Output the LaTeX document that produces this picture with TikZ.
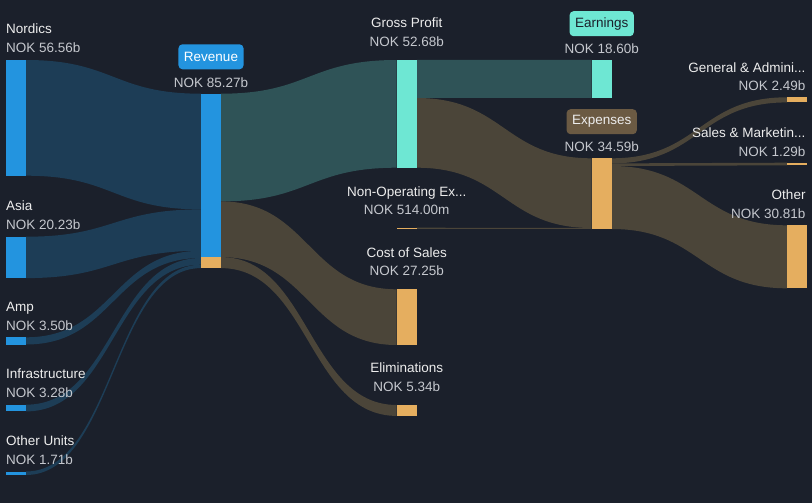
\documentclass[tikz,border=0pt]{standalone}
\usepackage{fontspec}
\setmainfont{Liberation Sans}
\usetikzlibrary{calc}
\definecolor{bgc}{HTML}{1B202B}
\definecolor{bnode}{HTML}{2394DF}
\definecolor{bflow}{HTML}{1D3D56}
\definecolor{tnode}{HTML}{6EE7D3}
\definecolor{tflow}{HTML}{2F5357}
\definecolor{onode}{HTML}{E5AE5F}
\definecolor{oflow}{HTML}{4B4539}
\definecolor{expbox}{HTML}{6B5A43}
\definecolor{nametxt}{HTML}{EDEDED}
\definecolor{valtxt}{HTML}{C5C8CE}
\pgfdeclarelayer{back}
\pgfsetlayers{back,main}
\newcommand\sflow[5]{\fill[#1] let \p1=(#2),\p2=(#3),\p3=(#4),\p4=(#5) in (\p1) .. controls ({(\x1+\x3)/2},\y1) and ({(\x1+\x3)/2},\y3) .. (\p3) -- (\p4) .. controls ({(\x2+\x4)/2},\y4) and ({(\x2+\x4)/2},\y2) .. (\p2) -- cycle;}
\tikzset{
  bar/.style={rectangle, inner sep=0pt, outer sep=0pt, minimum width=20pt, anchor=north west},
  bbar/.style={bar, fill=bnode},
  tbar/.style={bar, fill=tnode},
  obar/.style={bar, fill=onode},
  lbl/.style={inner sep=0pt, font=\fontsize{13.5}{16}\selectfont},
  namelbl/.style={lbl, text=nametxt},
  vallbl/.style={lbl, text=valtxt},
  tagbox/.style={lbl, rounded corners=4pt, minimum height=25pt, inner xsep=5.5pt}
}
\begin{document}
\begin{tikzpicture}[x=1pt,y=-1pt]
\begin{pgfonlayer}{back}
\fill[bgc] (0,0) rectangle (812,503);
\end{pgfonlayer}
\useasboundingbox (0,0) rectangle (812,503);
% nodes (bars)
\node[bbar, minimum height=115.7pt] (nord) at (6,60) {};
\node[bbar, minimum height=41.4pt] (asia) at (6,236.7) {};
\node[bbar, minimum height=7.2pt] (amp) at (6,337.3) {};
\node[bbar, minimum height=6.7pt] (infra) at (6,404.7) {};
\node[bbar, minimum height=3.5pt] (othu) at (6,471.5) {};
\node[bbar, minimum height=174.4pt] (rev) at (201,93.7) {};
\node[obar, minimum height=11pt] (revel) at (201,257.1) {};
\node[tbar, minimum height=107.7pt] (gp) at (396.7,60) {};
\node[obar, minimum height=1.1pt] (nonop) at (396.7,227.7) {};
\node[obar, minimum height=55.7pt] (cos) at (396.7,289.3) {};
\node[obar, minimum height=10.9pt] (elim) at (396.7,405) {};
\node[tbar, minimum height=38pt] (earn) at (591.7,60) {};
\node[obar, minimum height=70.7pt] (exp) at (591.7,158.3) {};
\node[obar, minimum height=5.1pt] (ga) at (787,97.3) {};
\node[obar, minimum height=2.6pt] (sm) at (787,162.7) {};
\node[obar, minimum height=63pt] (oth) at (787,225.3) {};
% stacking points
\coordinate (r1) at ([yshift=-115.7pt]rev.north west);
\coordinate (r2) at ([yshift=-157.1pt]rev.north west);
\coordinate (r3) at ([yshift=-164.3pt]rev.north west);
\coordinate (r4) at ([yshift=-171pt]rev.north west);
\coordinate (ro1) at ([yshift=-107.7pt]rev.north east);
\coordinate (ro2) at ([yshift=-163.4pt]rev.north east);
\coordinate (g1) at ([yshift=-38pt]gp.north east);
\coordinate (e1) at ([yshift=-69.7pt]exp.north west);
\coordinate (x1) at ([yshift=-5.1pt]exp.north east);
\coordinate (x2) at ([yshift=-7.7pt]exp.north east);
% flows
\begin{pgfonlayer}{back}
\sflow{bflow}{nord.north east}{nord.south east}{rev.north west}{r1}
\sflow{bflow}{asia.north east}{asia.south east}{r1}{r2}
\sflow{bflow}{amp.north east}{amp.south east}{r2}{r3}
\sflow{bflow}{infra.north east}{infra.south east}{r3}{r4}
\sflow{bflow}{othu.north east}{othu.south east}{r4}{rev.south west}
\sflow{tflow}{rev.north east}{ro1}{gp.north west}{gp.south west}
\sflow{oflow}{ro1}{ro2}{cos.north west}{cos.south west}
\sflow{oflow}{ro2}{rev.south east}{elim.north west}{elim.south west}
\sflow{tflow}{gp.north east}{g1}{earn.north west}{earn.south west}
\sflow{oflow}{g1}{gp.south east}{exp.north west}{e1}
\sflow{oflow}{nonop.north east}{nonop.south east}{e1}{exp.south west}
\sflow{oflow}{exp.north east}{x1}{ga.north west}{ga.south west}
\sflow{oflow}{x1}{x2}{sm.north west}{sm.south west}
\sflow{oflow}{x2}{exp.south east}{oth.north west}{oth.south west}
\end{pgfonlayer}
% left labels
\node[namelbl, anchor=base west] (nordN) at ([yshift=26pt]nord.north west) {Nordics};
\node[vallbl, anchor=base west] (nordV) at ([yshift=7pt]nord.north west) {NOK 56.56b};
\node[namelbl, anchor=base west] (asiaN) at ([yshift=26pt]asia.north west) {Asia};
\node[vallbl, anchor=base west] (asiaV) at ([yshift=7pt]asia.north west) {NOK 20.23b};
\node[namelbl, anchor=base west] (ampN) at ([yshift=26pt]amp.north west) {Amp};
\node[vallbl, anchor=base west] (ampV) at ([yshift=7pt]amp.north west) {NOK 3.50b};
\node[namelbl, anchor=base west] (infraN) at ([yshift=26pt]infra.north west) {Infrastructure};
\node[vallbl, anchor=base west] (infraV) at ([yshift=7pt]infra.north west) {NOK 3.28b};
\node[namelbl, anchor=base west] (othuN) at ([yshift=26pt]othu.north west) {Other Units};
\node[vallbl, anchor=base west] (othuV) at ([yshift=7pt]othu.north west) {NOK 1.71b};
% revenue
\node[tagbox, fill=bnode, text=white] (revN) at ([yshift=36.9pt]rev.north) {Revenue};
\node[vallbl, anchor=base] (revV) at ([yshift=6.4pt]rev.north) {NOK 85.27b};
% middle labels
\node[namelbl, anchor=base] (gpN) at ([yshift=32pt]gp.north) {Gross Profit};
\node[vallbl, anchor=base] (gpV) at ([yshift=13pt]gp.north) {NOK 52.68b};
\node[namelbl, anchor=base] (nonopN) at ([yshift=31.3pt]nonop.north) {Non-Operating Ex...};
\node[vallbl, anchor=base] (nonopV) at ([yshift=13.4pt]nonop.north) {NOK 514.00m};
\node[namelbl, anchor=base] (cosN) at ([yshift=32pt]cos.north) {Cost of Sales};
\node[vallbl, anchor=base] (cosV) at ([yshift=13.6pt]cos.north) {NOK 27.25b};
\node[namelbl, anchor=base] (elimN) at ([yshift=32.3pt]elim.north) {Eliminations};
\node[vallbl, anchor=base] (elimV) at ([yshift=13.3pt]elim.north) {NOK 5.34b};
% earnings / expenses
\node[tagbox, fill=tnode, text=bgc] (earnN) at ([yshift=36.3pt]earn.north) {Earnings};
\node[vallbl, anchor=base] (earnV) at ([yshift=6.7pt]earn.north) {NOK 18.60b};
\node[tagbox, fill=expbox, text=nametxt] (expN) at ([yshift=36.6pt]exp.north) {Expenses};
\node[vallbl, anchor=base] (expV) at ([yshift=7.3pt]exp.north) {NOK 34.59b};
% right labels
\node[namelbl, anchor=base east] (gaN) at ([xshift=-1.3pt,yshift=25pt]ga.north east) {General \& Admini...};
\node[vallbl, anchor=base east] (gaV) at ([xshift=-1.3pt,yshift=6.3pt]ga.north east) {NOK 2.49b};
\node[namelbl, anchor=base east] (smN) at ([xshift=-1.3pt,yshift=25.4pt]sm.north east) {Sales \& Marketin...};
\node[vallbl, anchor=base east] (smV) at ([xshift=-1.3pt,yshift=6.7pt]sm.north east) {NOK 1.29b};
\node[namelbl, anchor=base east] (othN) at ([xshift=-1.3pt,yshift=26pt]oth.north east) {Other};
\node[vallbl, anchor=base east] (othV) at ([xshift=-1.3pt,yshift=7.3pt]oth.north east) {NOK 30.81b};
\end{tikzpicture}
\end{document}
